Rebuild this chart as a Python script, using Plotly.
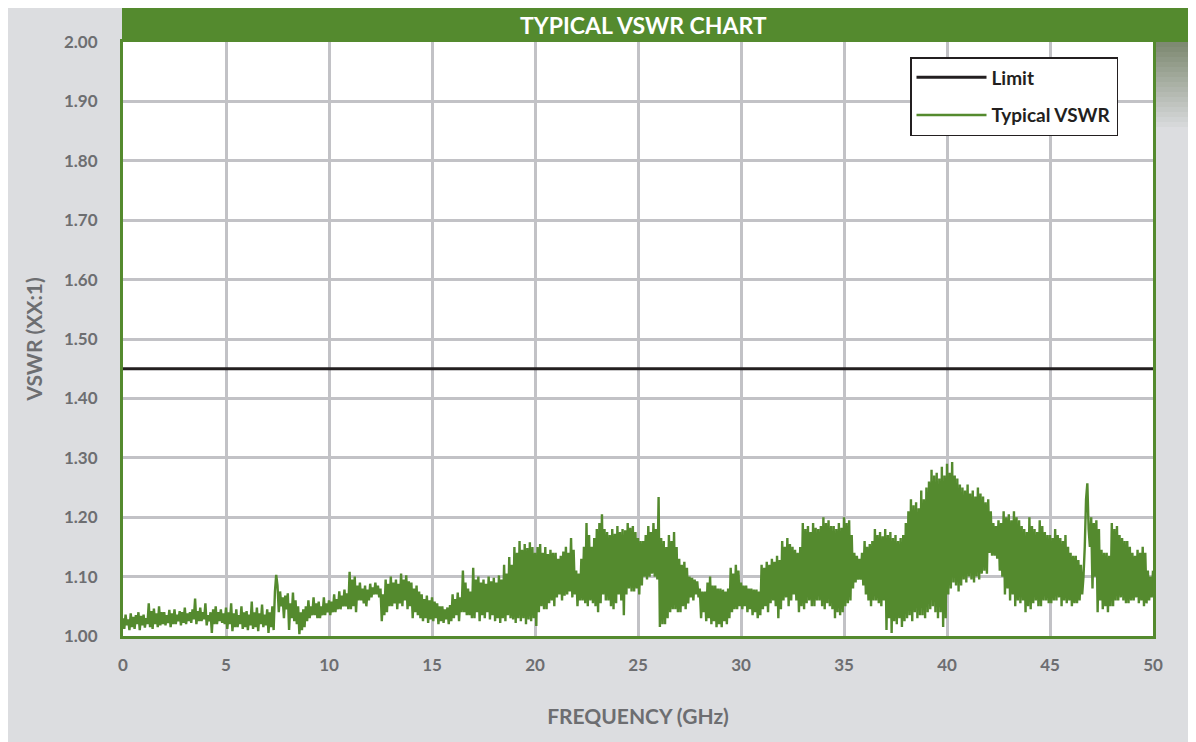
import plotly.graph_objects as go

# ---------------- data ----------------
freq_step_ghz = 0.0625
vswr_rows = [
    [1.030, 1.012, 1.036, 1.018, 1.028, 1.010, 1.038, 1.015, 1.032, 1.012, 1.035, 1.020, 1.040, 1.010, 1.034, 1.018],  # 0
    [1.036, 1.014, 1.030, 1.020, 1.055, 1.015, 1.042, 1.012, 1.046, 1.020, 1.038, 1.015, 1.050, 1.018, 1.040, 1.020],  # 1
    [1.040, 1.018, 1.035, 1.022, 1.044, 1.015, 1.038, 1.020, 1.045, 1.020, 1.036, 1.025, 1.042, 1.018, 1.040, 1.022],  # 2
    [1.048, 1.020, 1.038, 1.025, 1.040, 1.022, 1.045, 1.028, 1.063, 1.020, 1.042, 1.025, 1.048, 1.025, 1.040, 1.028],  # 3
    [1.055, 1.018, 1.035, 1.025, 1.040, 1.005, 1.045, 1.020, 1.050, 1.020, 1.040, 1.025, 1.045, 1.022, 1.038, 1.020],  # 4
    [1.048, 1.012, 1.040, 1.020, 1.055, 1.008, 1.038, 1.015, 1.045, 1.015, 1.035, 1.020, 1.050, 1.012, 1.040, 1.015],  # 5
    [1.042, 1.010, 1.036, 1.018, 1.058, 1.012, 1.040, 1.015, 1.048, 1.008, 1.038, 1.020, 1.053, 1.015, 1.036, 1.018],  # 6
    [1.045, 1.005, 1.040, 1.015, 1.050, 1.010, 1.075, 1.103, 1.085, 1.040, 1.075, 1.050, 1.065, 1.030, 1.068, 1.045],  # 7
    [1.072, 1.010, 1.055, 1.030, 1.073, 1.025, 1.060, 1.020, 1.050, 1.003, 1.040, 1.010, 1.045, 1.015, 1.050, 1.025],  # 8
    [1.060, 1.030, 1.050, 1.035, 1.065, 1.035, 1.055, 1.030, 1.058, 1.030, 1.050, 1.035, 1.065, 1.035, 1.055, 1.040],  # 9
    [1.060, 1.035, 1.058, 1.040, 1.070, 1.040, 1.062, 1.045, 1.075, 1.045, 1.068, 1.050, 1.078, 1.050, 1.072, 1.045],  # 10
    [1.108, 1.045, 1.095, 1.050, 1.100, 1.040, 1.085, 1.060, 1.090, 1.060, 1.080, 1.055, 1.085, 1.050, 1.078, 1.060],  # 11
    [1.088, 1.065, 1.082, 1.070, 1.090, 1.070, 1.085, 1.065, 1.080, 1.025, 1.070, 1.035, 1.095, 1.040, 1.088, 1.050],  # 12
    [1.100, 1.050, 1.090, 1.055, 1.095, 1.045, 1.088, 1.055, 1.105, 1.050, 1.095, 1.060, 1.102, 1.045, 1.092, 1.050],  # 13
    [1.090, 1.030, 1.080, 1.040, 1.085, 1.035, 1.075, 1.030, 1.070, 1.025, 1.062, 1.030, 1.068, 1.022, 1.060, 1.028],  # 14
    [1.065, 1.025, 1.058, 1.030, 1.055, 1.020, 1.050, 1.025, 1.050, 1.022, 1.045, 1.028, 1.048, 1.020, 1.052, 1.025],  # 15
    [1.070, 1.030, 1.062, 1.035, 1.073, 1.025, 1.065, 1.040, 1.110, 1.040, 1.090, 1.035, 1.080, 1.035, 1.075, 1.030],  # 16
    [1.115, 1.030, 1.095, 1.040, 1.100, 1.025, 1.090, 1.035, 1.095, 1.030, 1.088, 1.040, 1.100, 1.028, 1.092, 1.035],  # 17
    [1.098, 1.025, 1.090, 1.030, 1.102, 1.022, 1.095, 1.030, 1.120, 1.025, 1.105, 1.035, 1.133, 1.030, 1.120, 1.028],  # 18
    [1.150, 1.022, 1.140, 1.030, 1.160, 1.025, 1.145, 1.030, 1.155, 1.020, 1.148, 1.028, 1.158, 1.025, 1.150, 1.030],  # 19
    [1.140, 1.017, 1.150, 1.040, 1.155, 1.050, 1.140, 1.045, 1.150, 1.045, 1.138, 1.055, 1.145, 1.060, 1.140, 1.050],  # 20
    [1.140, 1.065, 1.130, 1.070, 1.135, 1.060, 1.142, 1.068, 1.150, 1.070, 1.140, 1.075, 1.165, 1.065, 1.145, 1.070],  # 21
    [1.110, 1.050, 1.105, 1.060, 1.130, 1.060, 1.150, 1.055, 1.190, 1.050, 1.170, 1.060, 1.150, 1.055, 1.165, 1.050],  # 22
    [1.180, 1.040, 1.190, 1.055, 1.205, 1.070, 1.180, 1.060, 1.175, 1.060, 1.170, 1.050, 1.180, 1.045, 1.172, 1.055],  # 23
    [1.185, 1.070, 1.175, 1.060, 1.180, 1.035, 1.178, 1.070, 1.190, 1.080, 1.182, 1.075, 1.185, 1.075, 1.175, 1.080],  # 24
    [1.165, 1.070, 1.160, 1.085, 1.160, 1.100, 1.170, 1.095, 1.185, 1.100, 1.175, 1.105, 1.190, 1.100, 1.180, 1.095],  # 25
    [1.234, 1.015, 1.165, 1.020, 1.160, 1.020, 1.150, 1.030, 1.170, 1.040, 1.160, 1.045, 1.175, 1.045, 1.150, 1.040],  # 26
    [1.130, 1.040, 1.120, 1.050, 1.125, 1.045, 1.115, 1.055, 1.100, 1.065, 1.098, 1.060, 1.095, 1.070, 1.092, 1.065],  # 27
    [1.080, 1.030, 1.075, 1.040, 1.075, 1.025, 1.090, 1.030, 1.100, 1.020, 1.085, 1.025, 1.085, 1.015, 1.080, 1.020],  # 28
    [1.080, 1.015, 1.078, 1.025, 1.075, 1.020, 1.080, 1.030, 1.115, 1.040, 1.105, 1.045, 1.120, 1.045, 1.110, 1.050],  # 29
    [1.090, 1.045, 1.085, 1.050, 1.085, 1.040, 1.080, 1.045, 1.080, 1.035, 1.078, 1.040, 1.078, 1.030, 1.075, 1.035],  # 30
    [1.120, 1.045, 1.115, 1.050, 1.125, 1.040, 1.120, 1.055, 1.130, 1.060, 1.125, 1.050, 1.135, 1.030, 1.128, 1.045],  # 31
    [1.160, 1.060, 1.150, 1.065, 1.165, 1.050, 1.155, 1.060, 1.150, 1.070, 1.145, 1.060, 1.140, 1.040, 1.150, 1.050],  # 32
    [1.190, 1.045, 1.180, 1.055, 1.185, 1.060, 1.175, 1.050, 1.190, 1.050, 1.182, 1.060, 1.180, 1.060, 1.185, 1.050],  # 33
    [1.200, 1.045, 1.190, 1.055, 1.195, 1.050, 1.185, 1.045, 1.185, 1.030, 1.180, 1.040, 1.190, 1.035, 1.182, 1.040],  # 34
    [1.200, 1.050, 1.190, 1.055, 1.195, 1.060, 1.170, 1.080, 1.140, 1.090, 1.135, 1.095, 1.130, 1.095, 1.140, 1.085],  # 35
    [1.160, 1.070, 1.150, 1.060, 1.155, 1.050, 1.160, 1.060, 1.180, 1.060, 1.170, 1.055, 1.175, 1.050, 1.168, 1.060],  # 36
    [1.180, 1.010, 1.170, 1.030, 1.175, 1.005, 1.165, 1.025, 1.170, 1.020, 1.160, 1.030, 1.165, 1.015, 1.170, 1.025],  # 37
    [1.190, 1.030, 1.210, 1.035, 1.230, 1.025, 1.220, 1.040, 1.225, 1.030, 1.215, 1.035, 1.245, 1.035, 1.230, 1.030],  # 38
    [1.250, 1.040, 1.260, 1.045, 1.280, 1.050, 1.270, 1.040, 1.275, 1.030, 1.265, 1.040, 1.285, 1.015, 1.270, 1.030],  # 39
    [1.290, 1.070, 1.275, 1.080, 1.293, 1.090, 1.270, 1.085, 1.265, 1.075, 1.255, 1.085, 1.250, 1.095, 1.245, 1.090],  # 40
    [1.255, 1.100, 1.240, 1.095, 1.245, 1.090, 1.235, 1.100, 1.250, 1.095, 1.240, 1.105, 1.235, 1.110, 1.225, 1.105],  # 41
    [1.230, 1.140, 1.210, 1.135, 1.190, 1.135, 1.185, 1.130, 1.195, 1.110, 1.190, 1.100, 1.210, 1.070, 1.200, 1.080],  # 42
    [1.205, 1.060, 1.195, 1.070, 1.210, 1.050, 1.200, 1.060, 1.195, 1.055, 1.185, 1.060, 1.180, 1.040, 1.175, 1.050],  # 43
    [1.200, 1.045, 1.185, 1.055, 1.180, 1.060, 1.175, 1.050, 1.195, 1.050, 1.185, 1.060, 1.175, 1.060, 1.170, 1.055],  # 44
    [1.170, 1.055, 1.165, 1.060, 1.180, 1.060, 1.170, 1.065, 1.165, 1.050, 1.160, 1.060, 1.170, 1.055, 1.150, 1.060],  # 45
    [1.140, 1.050, 1.135, 1.055, 1.135, 1.055, 1.128, 1.060, 1.120, 1.070, 1.100, 1.150, 1.230, 1.257, 1.180, 1.150],  # 46
    [1.200, 1.080, 1.190, 1.100, 1.195, 1.040, 1.180, 1.060, 1.145, 1.045, 1.140, 1.050, 1.140, 1.040, 1.135, 1.050],  # 47
    [1.190, 1.050, 1.180, 1.060, 1.185, 1.060, 1.170, 1.065, 1.165, 1.060, 1.160, 1.055, 1.160, 1.055, 1.150, 1.060],  # 48
    [1.140, 1.060, 1.135, 1.065, 1.145, 1.055, 1.140, 1.060, 1.150, 1.050, 1.140, 1.055, 1.110, 1.060, 1.100, 1.065],  # 49
    [1.110],                                                                                                            # 50
]
limit_vswr = 1.45

x_ticks = [0, 5, 10, 15, 20, 25, 30, 35, 40, 45, 50]
y_ticks = [1.00, 1.10, 1.20, 1.30, 1.40, 1.50, 1.60, 1.70, 1.80, 1.90, 2.00]
y_tick_labels = ["1.00", "1.10", "1.20", "1.30", "1.40", "1.50",
                 "1.60", "1.70", "1.80", "1.90", "2.00"]

# ---------------- build series ----------------
vswr = [v for row in vswr_rows for v in row]
freq = [i * freq_step_ghz for i in range(len(vswr))]

GREEN = "#548a2e"
DARK = "#231f20"
GRAYTXT = "#6d6e71"
PANEL = "#dcdde0"
FONT = "Lato, Liberation Sans, sans-serif"

# page body has an 8px margin; figure sized so it ends at the window edge
W, H = 1188, 734
L, R, T, B = 115, 43, 34, 106
pw, ph = W - L - R, H - T - B


def px(xp):
    return (xp - L) / pw


def py(yp):
    return (H - B - yp) / ph


fig = go.Figure()
fig.add_trace(go.Scatter(
    x=[0, 50], y=[limit_vswr, limit_vswr], mode="lines", name="Limit",
    legendgroup="a", line=dict(color=DARK, width=3)))
fig.add_trace(go.Scatter(
    x=freq, y=vswr, mode="lines", name="Typical VSWR",
    legendgroup="b", line=dict(color=GREEN, width=2.4)))

shapes = [
    # green title bar
    dict(type="rect", xref="paper", yref="paper", x0=px(114), x1=px(W), y0=py(34), y1=py(-1),
         fillcolor=GREEN, line_width=0, layer="above"),
]
# gradient shading at the right of the plot
grad_top = (126, 138, 114)
grad_bot = (220, 221, 224)
n = 18
for i in range(n):
    t = i / (n - 1)
    c = tuple(int(grad_top[k] + (grad_bot[k] - grad_top[k]) * t) for k in range(3))
    y0p = 34 + i * 5
    shapes.append(dict(type="rect", xref="paper", yref="paper",
                       x0=px(1147), x1=px(W), y0=py(y0p + 5), y1=py(y0p),
                       fillcolor="rgb(%d,%d,%d)" % c, line_width=0, layer="below"))
fig.update_layout(shapes=shapes)

fig.add_annotation(text="<b>TYPICAL VSWR CHART</b>", xref="paper", yref="paper",
                   x=px(635), y=py(17), xanchor="center", yanchor="middle",
                   showarrow=False, font=dict(family=FONT, size=23, color="white"))

fig.update_layout(
    width=W, height=H,
    margin=dict(l=L, r=R, t=T, b=B, pad=0),
    paper_bgcolor=PANEL, plot_bgcolor="white",
    font=dict(family=FONT, color=GRAYTXT),
    showlegend=True,
    legend=dict(x=px(902), y=py(49), xanchor="left", yanchor="top",
                bgcolor="white", bordercolor=DARK, borderwidth=1.5,
                font=dict(family=FONT, size=19, color=DARK, weight="bold"),
                itemwidth=70, tracegroupgap=10),
    xaxis=dict(range=[0, 50], tickvals=x_ticks, showgrid=True, gridcolor="#c2c2c6",
               gridwidth=2.5, zeroline=False, showline=True, linecolor=GREEN,
               linewidth=3, mirror=True, ticks="", ticklabelstandoff=12,
               tickfont=dict(family=FONT, size=17, color=GRAYTXT, weight="bold"),
               title=dict(text="FREQUENCY (GHz)", standoff=35,
                          font=dict(family=FONT, size=21, color=GRAYTXT, weight="bold"))),
    yaxis=dict(range=[1.0, 2.0], tickvals=y_ticks, ticktext=y_tick_labels,
               showgrid=True, gridcolor="#c2c2c6", gridwidth=2.5, zeroline=False,
               showline=True, linecolor=GREEN, linewidth=3, mirror=True, ticks="",
               ticklabelstandoff=19,
               tickfont=dict(family=FONT, size=17, color=GRAYTXT, weight="bold"),
               title=dict(text="VSWR (XX:1)", standoff=16,
                          font=dict(family=FONT, size=21, color=GRAYTXT, weight="bold"))),
)

fig.write_html("out.html")
